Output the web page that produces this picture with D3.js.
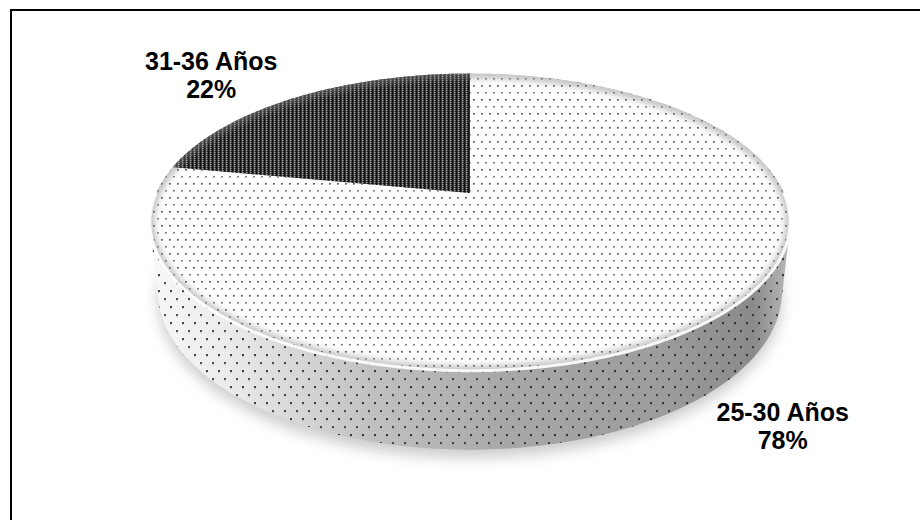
<!DOCTYPE html>
<html><head><meta charset="utf-8">
<script src="https://cdnjs.cloudflare.com/ajax/libs/d3/7.8.5/d3.min.js"></script>
<style>html,body{margin:0;padding:0;background:#fff;}svg{display:block;}</style>
</head><body>
<svg id="chart" width="920" height="520"></svg>
<script>
// ---- data ----
const categories = ["25-30 Años", "31-36 Años"];
const values = [78, 22];
const percentLabels = ["78%", "22%"];

// ---- layout / projection ----
const W = 920, H = 520;
const cx = 470, cy = 193;          // projected pie centre
const sinT = 0.455, cosT = 0.891;  // tilt
const D = 4.54, F = 1425;          // camera distance, focal
const thick = 0.25;                // pie thickness (unit radius)

function proj(a, h, r) {
  r = r === undefined ? 1 : r;
  const u = Math.sin(a) * r, v = Math.cos(a) * r;
  const Y = h * cosT + v * sinT;
  const Z = D + v * cosT - h * sinT;
  return [cx + F * u / Z, cy - F * Y / Z];
}

const svg = d3.select("#chart");
const defs = svg.append("defs");

// patterns
const dots = defs.append("pattern").attr("id", "dots").attr("patternUnits", "userSpaceOnUse")
  .attr("width", 8).attr("height", 14);
dots.append("rect").attr("width", 8).attr("height", 14).attr("fill", "#fff");
dots.append("rect").attr("x", 1).attr("y", 1).attr("width", 1.8).attr("height", 1.6).attr("fill", "#555");
dots.append("rect").attr("x", 5).attr("y", 8).attr("width", 1.8).attr("height", 1.6).attr("fill", "#777");

const sideDots = defs.append("pattern").attr("id", "sideDots").attr("patternUnits", "userSpaceOnUse")
  .attr("width", 12).attr("height", 16);
sideDots.append("rect").attr("x", 2).attr("y", 2).attr("width", 2).attr("height", 2.2).attr("fill", "#1a1a1a");
sideDots.append("rect").attr("x", 8).attr("y", 10).attr("width", 2).attr("height", 2.2).attr("fill", "#2a2a2a");

const stripes = defs.append("pattern").attr("id", "stripes").attr("patternUnits", "userSpaceOnUse")
  .attr("width", 4).attr("height", 2);
stripes.append("rect").attr("width", 4).attr("height", 2).attr("fill", "#555");
stripes.append("rect").attr("x", 0).attr("width", 1.5).attr("height", 2).attr("fill", "#111");
stripes.append("rect").attr("x", 2).attr("y", 0).attr("width", 1).attr("height", 1).attr("fill", "#a5a5a5");
stripes.append("rect").attr("x", 3).attr("y", 1).attr("width", 1).attr("height", 1).attr("fill", "#262626");

const sideGrad = defs.append("linearGradient").attr("id", "sideGrad")
  .attr("gradientUnits", "userSpaceOnUse").attr("x1", 150).attr("x2", 792).attr("y1", 0).attr("y2", 0);
[[0, "#f8f8f8"], [0.12, "#ebebeb"], [0.35, "#c0c0c0"], [0.55, "#a8a8a8"], [0.8, "#9c9c9c"], [0.94, "#8a8a8a"], [1, "#bdbdbd"]]
  .forEach(([o, c]) => sideGrad.append("stop").attr("offset", o).attr("stop-color", c));

const blur = defs.append("filter").attr("id", "blur").attr("x", "-20%").attr("y", "-20%").attr("width", "140%").attr("height", "140%");
blur.append("feGaussianBlur").attr("stdDeviation", 7);
const blur2 = defs.append("filter").attr("id", "blur2").attr("x", "-20%").attr("y", "-20%").attr("width", "140%").attr("height", "140%");
blur2.append("feGaussianBlur").attr("stdDeviation", 3);

// border (top & left visible)
svg.append("path").attr("d", `M11,${H + 5}V10H${W + 5}`).attr("fill", "none").attr("stroke", "#000").attr("stroke-width", 2);

// pie angles via d3.pie
const pie = d3.pie().sort(null).value(d => d)(values);
const N = 360;
const full = d3.range(N + 1).map(i => i / N * 2 * Math.PI);
const line = d3.line();

// shadow
const bottomPts = full.map(a => proj(a, -thick));
svg.append("path").attr("d", line(bottomPts.map(p => [p[0], p[1] + 8])) + "Z")
  .attr("fill", "#9a9a9a").attr("opacity", 0.5).attr("filter", "url(#blur)");

// side (convex hull of top and bottom rims)
const topPts = full.map(a => proj(a, 0));
const hull = d3.polygonHull(topPts.concat(bottomPts));
const sideD = line(hull) + "Z";
svg.append("path").attr("d", sideD).attr("fill", "url(#sideGrad)");
svg.append("path").attr("d", sideD).attr("fill", "url(#sideDots)").attr("opacity", 0.8);

// top faces
const fills = ["url(#dots)", "url(#stripes)"];
function slicePath(d) {
  const steps = Math.max(2, Math.ceil((d.endAngle - d.startAngle) / (Math.PI / 180)));
  const pts = [proj(0, 0, 0)];
  for (let i = 0; i <= steps; i++) pts.push(proj(d.startAngle + (d.endAngle - d.startAngle) * i / steps, 0));
  return line(pts) + "Z";
}
const topFace = line(topPts) + "Z";
defs.append("clipPath").attr("id", "topClip").append("path").attr("d", topFace);

svg.selectAll("path.slice").data(pie).join("path").attr("class", "slice")
  .attr("d", slicePath).attr("fill", (d, i) => fills[i]);

// bevel: inner soft shadow near rim + white rim highlight
const g = svg.append("g").attr("clip-path", "url(#topClip)");
g.append("path").attr("d", topFace).attr("fill", "none").attr("stroke", "#8a8a8a")
  .attr("stroke-width", 10).attr("opacity", 0.5).attr("filter", "url(#blur2)");
const frontPts = d3.range(0, 181).map(i => proj(Math.PI / 2 + i / 180 * Math.PI, 0));
svg.append("path").attr("d", line(frontPts)).attr("fill", "none").attr("stroke", "#fff")
  .attr("stroke-width", 3).attr("opacity", 0.9);

// labels
const labelOffsets = [[77, 98], [-85, -27]];
const lab = svg.selectAll("g.lab").data(pie).join("g").attr("class", "lab")
  .attr("transform", (d, i) => {
    const p = proj((d.startAngle + d.endAngle) / 2, 0);
    return `translate(${p[0] + labelOffsets[i][0]},${p[1] + labelOffsets[i][1]})`;
  });
lab.append("text").attr("text-anchor", "middle").attr("font-family", "Liberation Sans, Arial, sans-serif")
  .attr("font-weight", "bold").attr("font-size", 25).attr("fill", "#000")
  .text((d, i) => categories[i]);
lab.append("text").attr("text-anchor", "middle").attr("y", 28).attr("font-family", "Liberation Sans, Arial, sans-serif")
  .attr("font-weight", "bold").attr("font-size", 25).attr("fill", "#000")
  .text((d, i) => percentLabels[i]);
</script>
</body></html>
